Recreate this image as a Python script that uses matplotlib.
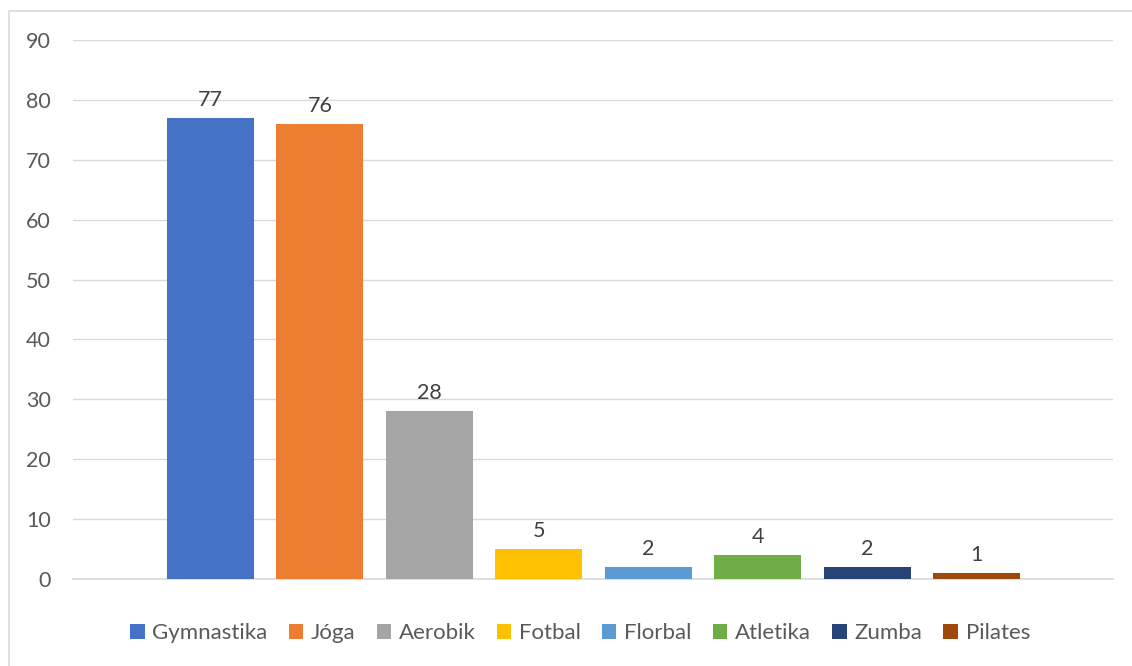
import matplotlib
matplotlib.use("Agg")
import matplotlib.pyplot as plt
from matplotlib.patches import Rectangle

sports = ["Gymnastika", "Jóga", "Aerobik", "Fotbal", "Florbal", "Atletika", "Zumba", "Pilates"]
counts = [77, 76, 28, 5, 2, 4, 2, 1]
colors = ["#4472C4", "#ED7D31", "#A5A5A5", "#FFC000", "#5B9BD5", "#70AD47", "#264478", "#9E480E"]
yticks = list(range(0, 100, 10))

plt.rcParams["font.family"] = ["Lato", "DejaVu Sans"]

W, H = 1132, 666
fig = plt.figure(figsize=(W / 100, H / 100), dpi=100)
ax = fig.add_axes([73 / W, (H - 579) / H, (1113 - 73) / W, (579 - 40) / H])

# chart frame
fig.patches.append(Rectangle((9 / W, -0.05), 1.2, (H - 11) / H + 0.05,
                             transform=fig.transFigure, fill=False,
                             edgecolor="#d9d9d9", linewidth=1.2))

positions = list(range(len(sports)))
bars = ax.bar(positions, counts, width=0.795, color=colors, zorder=3)

for x, v in zip(positions, counts):
    ax.annotate(str(v), (x, v), xytext=(0, 6), textcoords="offset points",
                ha="center", va="bottom", fontsize=15.5, color="#404040")

ax.set_xlim(-1.256, 8.247)
ax.set_ylim(0, 90)
ax.set_yticks(yticks)
ax.set_xticks([])
ax.grid(axis="y", color="#d9d9d9", linewidth=1.0, zorder=0)
for side in ["top", "right", "left"]:
    ax.spines[side].set_visible(False)
ax.spines["bottom"].set_color("#d9d9d9")
ax.spines["bottom"].set_linewidth(1.2)
ax.tick_params(axis="y", length=0, pad=16, labelsize=15.5, labelcolor="#595959")

fig.legend(handles=list(bars), labels=sports, loc="center", bbox_to_anchor=(580 / W, (H - 633) / H),
           ncol=8, frameon=False, fontsize=16, labelcolor="#595959",
           handlelength=0.65, handleheight=0.65, handletextpad=0.35, columnspacing=0.95)

fig.savefig("out.png", dpi=100)
